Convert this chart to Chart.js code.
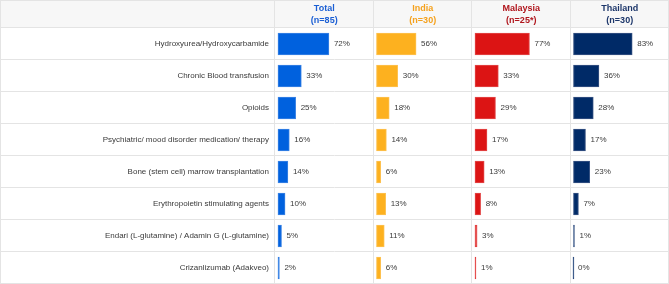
<!DOCTYPE html>
<html>
<head>
<meta charset="utf-8">
<script src="https://cdn.jsdelivr.net/npm/chart.js@4/dist/chart.umd.min.js"></script>
<style>
    body { margin: 0; background: #fff; }
    #wrap { position: relative; width: 669px; height: 284px; }
</style>
</head>
<body>
<div id="wrap"><canvas id="treatmentChart"></canvas></div>
<script>
// Data
const categories = [
    'Hydroxyurea/Hydroxycarbamide',
    'Chronic Blood transfusion',
    'Opioids',
    'Psychiatric/ mood disorder medication/ therapy',
    'Bone (stem cell) marrow transplantation',
    'Erythropoietin stimulating agents',
    'Endari (L-glutamine) / Adamin G (L-glutamine)',
    'Crizanlizumab (Adakveo)'
];
const groups = ['Total', 'India', 'Malaysia', 'Thailand'];
const groupSizes = ['(n=85)', '(n=30)', '(n=25*)', '(n=30)'];
const totalValues = [72, 33, 25, 16, 14, 10, 5, 2];
const indiaValues = [56, 30, 18, 14, 6, 13, 11, 6];
const malaysiaValues = [77, 33, 29, 17, 13, 8, 3, 1];
const thailandValues = [83, 36, 28, 17, 23, 7, 1, 0];

const seriesValues = [totalValues, indiaValues, malaysiaValues, thailandValues];
const barColors = ['#0061de', '#fdb11f', '#dc1414', '#002a67'];
const barEdges = ['#3c84e4', '#fdc252', '#e34a4a', '#3a5584'];
const headerColors = ['#1b5fd4', '#f5a11c', '#b0161d', '#1c366a'];

const FONT = "'Liberation Sans', Arial, sans-serif";
const LINE = '#e4e4e4';

// Table lines + header background + value labels
const tableGrid = {
    id: 'tableGrid',
    beforeDraw(chart) {
        const { ctx, chartArea, width } = chart;
        ctx.save();
        ctx.fillStyle = '#f7f7f7';
        ctx.fillRect(0, 0, width, chartArea.top);
        ctx.restore();
    },
    beforeDatasetsDraw(chart) {
        const { ctx, width, height, scales } = chart;
        const y = scales.y;
        ctx.save();
        ctx.strokeStyle = LINE;
        ctx.lineWidth = 1;
        ctx.beginPath();
        for (let i = 0; i <= categories.length; i++) {
            const py = Math.round(y.getPixelForValue(i - 0.5)) - 0.5;
            ctx.moveTo(0, py);
            ctx.lineTo(width, py);
        }
        groups.forEach((g, i) => {
            const px = Math.round(scales['x' + i].left) - 0.5;
            ctx.moveTo(px, 0);
            ctx.lineTo(px, height);
        });
        ctx.stroke();
        ctx.strokeRect(0.5, 0.5, width - 1, height - 1);
        ctx.restore();
    },
    afterDatasetsDraw(chart) {
        const { ctx } = chart;
        ctx.save();
        ctx.font = '8px ' + FONT;
        ctx.fillStyle = '#3a3a3a';
        ctx.textAlign = 'left';
        ctx.textBaseline = 'middle';
        chart.data.datasets.forEach((ds, di) => {
            chart.getDatasetMeta(di).data.forEach((bar, i) => {
                ctx.fillText(ds.data[i] + '%', bar.x + 5, bar.y);
            });
        });
        ctx.restore();
    }
};

const scales = {
    y: {
        type: 'category',
        position: 'left',
        grid: { display: false, drawTicks: false },
        border: { display: false },
        ticks: {
            autoSkip: false,
            color: '#3a3a3a',
            font: { family: FONT, size: 8 },
            padding: 6
        },
        afterFit: (scale) => {
            scale.width = 275;
            scale.paddingTop = 0;
            scale.paddingBottom = 0;
        }
    }
};

groups.forEach((g, i) => {
    scales['x' + i] = {
        type: 'linear',
        position: 'top',
        stack: 'columns',
        stackWeight: 1,
        weight: groups.length - i,
        min: -4.2,
        max: 135,
        grid: { display: false },
        border: { display: false },
        ticks: { display: false },
        title: {
            display: true,
            text: [g, groupSizes[i]],
            color: headerColors[i],
            font: { family: FONT, size: 9, weight: 'bold', lineHeight: 1.3 },
            padding: { top: 3, bottom: 0 }
        },
        afterFit: (scale) => { scale.height = 28; }
    };
});

new Chart(document.getElementById('treatmentChart'), {
    type: 'bar',
    data: {
        labels: categories,
        datasets: seriesValues.map((values, i) => ({
            label: groups[i],
            data: values,
            xAxisID: 'x' + i,
            yAxisID: 'y',
            backgroundColor: barColors[i],
            borderColor: barEdges[i],
            borderWidth: 1,
            borderSkipped: false,
            barThickness: 22,
            minBarLength: 1,
            grouped: false
        }))
    },
    options: {
        indexAxis: 'y',
        responsive: true,
        maintainAspectRatio: false,
        animation: false,
        layout: { padding: 0 },
        plugins: {
            legend: { display: false },
            tooltip: { enabled: false }
        },
        scales: scales
    },
    plugins: [tableGrid]
});
</script>
</body>
</html>
